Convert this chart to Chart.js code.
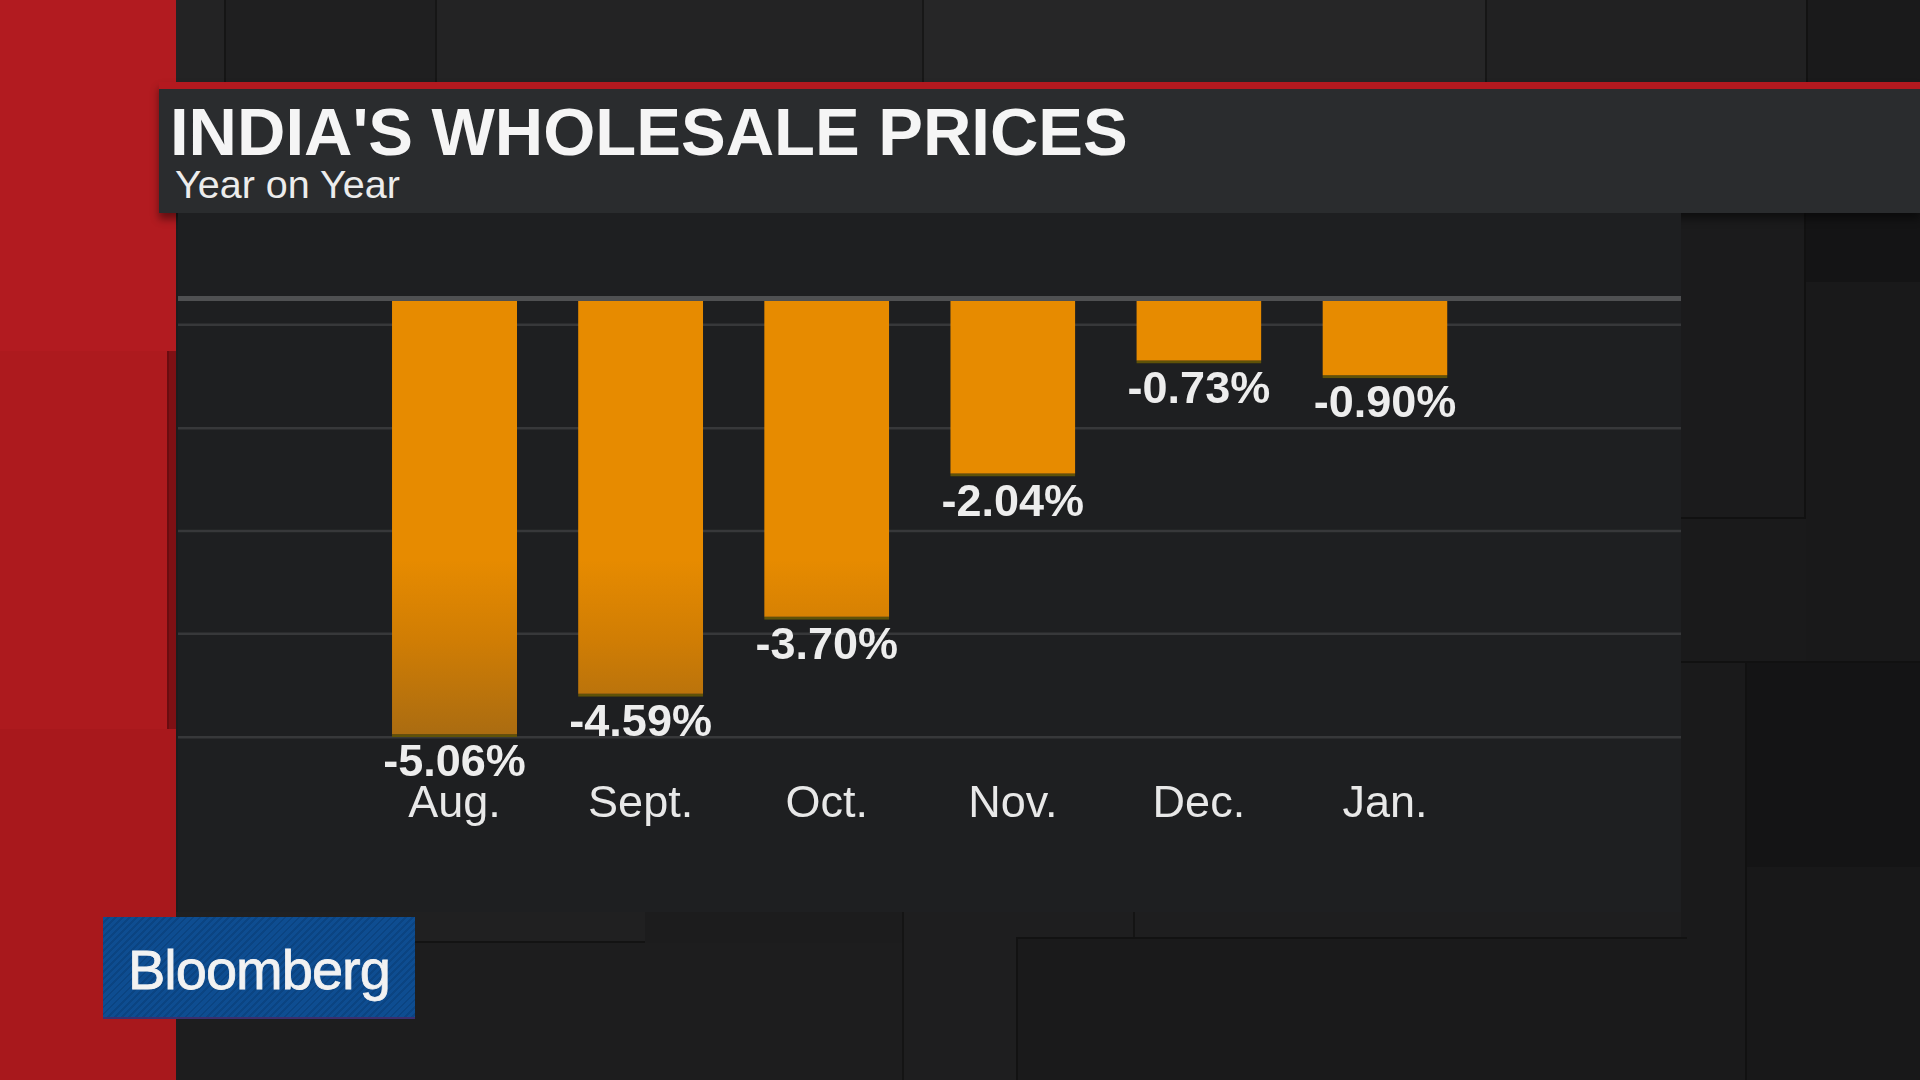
<!DOCTYPE html>
<html>
<head>
<meta charset="utf-8">
<script src="https://cdn.jsdelivr.net/npm/chart.js@4.4.1/dist/chart.umd.min.js"></script>
<style>
  html, body { margin: 0; padding: 0; }
  body {
    width: 1920px; height: 1080px; overflow: hidden; position: relative;
    background: #1c1c1d; font-family: "Liberation Sans", Arial, sans-serif;
  }
  .tile { position: absolute; box-sizing: border-box; }
  #header {
    position: absolute; left: 159px; top: 82px; width: 1761px; height: 131px;
    background: #2a2c2e; border-top: 7px solid #b3191f; box-sizing: border-box;
    box-shadow: 0 6px 8px rgba(0,0,0,0.45);
  }
  #title {
    position: absolute; left: 170px; top: 98px; color: #f5f5f5;
    font-weight: bold; font-size: 67px; line-height: 1; white-space: nowrap;
  }
  #subtitle {
    position: absolute; left: 175px; top: 165px; color: #ececec;
    font-size: 39.5px; line-height: 1; white-space: nowrap;
  }
  #panel {
    position: absolute; left: 178px; top: 213px; width: 1503px; height: 699px;
    background: #1e1f21;
  }
  #logo {
    position: absolute; left: 103px; top: 917px; width: 312px; height: 102px;
    background: repeating-linear-gradient(135deg, #0e4d91 0 3px, #0b4482 3px 5px);
    border-bottom: 2px solid #3a2f6e; box-sizing: border-box;
  }
  #logo span {
    position: absolute; left: 25px; top: 25px; color: #f2f2f2;
    font-size: 56px; line-height: 1; letter-spacing: -1px;
    -webkit-text-stroke: 0.8px #f2f2f2;
  }
</style>
</head>
<body>
<!-- left red column -->
<div class="tile" style="left:0;top:0;width:176px;height:351px;background:#b21b20;"></div>
<div class="tile" style="left:0;top:351px;width:176px;height:378px;background:#7e1014;"></div>
<div class="tile" style="left:0;top:351px;width:169px;height:378px;background:#ad1a1e;border-right:2px solid #6a0c10;"></div>
<div class="tile" style="left:0;top:729px;width:176px;height:351px;background:#a8181c;"></div>
<!-- top tiles -->
<div class="tile" style="left:176px;top:0;width:48px;height:82px;background:#232324;"></div>
<div class="tile" style="left:224px;top:0;width:211px;height:82px;background:#1f1f20;border-left:2px solid #151515;"></div>
<div class="tile" style="left:435px;top:0;width:487px;height:82px;background:#232324;border-left:2px solid #161616;"></div>
<div class="tile" style="left:922px;top:0;width:563px;height:82px;background:#262627;border-left:2px solid #171717;"></div>
<div class="tile" style="left:1485px;top:0;width:321px;height:82px;background:#212122;border-left:2px solid #161616;"></div>
<div class="tile" style="left:1806px;top:0;width:114px;height:82px;background:#1a1a1b;border-left:2px solid #121212;"></div>
<!-- right tiles -->
<div class="tile" style="left:1681px;top:213px;width:125px;height:306px;background:#1b1b1c;border-right:2px solid #111;border-bottom:2px solid #111;"></div>
<div class="tile" style="left:1806px;top:213px;width:114px;height:69px;background:#141415;"></div>
<div class="tile" style="left:1806px;top:282px;width:114px;height:379px;background:#19191a;"></div>
<div class="tile" style="left:1681px;top:519px;width:125px;height:142px;background:#1a1a1b;"></div>
<div class="tile" style="left:1681px;top:661px;width:64px;height:419px;background:#1a1a1b;border-top:2px solid #111;"></div>
<div class="tile" style="left:1745px;top:661px;width:175px;height:206px;background:#141415;border-top:2px solid #111;border-left:2px solid #111;"></div>
<div class="tile" style="left:1745px;top:867px;width:175px;height:213px;background:#181819;border-left:2px solid #111;"></div>
<!-- bottom tiles -->
<div class="tile" style="left:176px;top:912px;width:469px;height:31px;background:#202021;border-bottom:2px solid #131313;"></div>
<div class="tile" style="left:176px;top:943px;width:726px;height:137px;background:#1d1d1e;"></div>
<div class="tile" style="left:645px;top:912px;width:257px;height:31px;background:#1c1c1d;"></div>
<div class="tile" style="left:902px;top:912px;width:231px;height:168px;background:#1e1e1f;border-left:2px solid #141414;"></div>
<div class="tile" style="left:1133px;top:912px;width:548px;height:25px;background:#1e1e1f;border-left:2px solid #141414;"></div>
<div class="tile" style="left:1016px;top:937px;width:671px;height:143px;background:#1a1a1b;border-left:2px solid #121212;border-top:2px solid #121212;"></div>

<div id="header"></div>
<div id="title">INDIA'S WHOLESALE PRICES</div>
<div id="subtitle">Year on Year</div>

<div id="panel"><canvas id="wpiChart"></canvas></div>

<div id="logo"><span>Bloomberg</span></div>

<script>
// ==============================
// DATA
// ==============================
const months = ["Aug.", "Sept.", "Oct.", "Nov.", "Dec.", "Jan."];
const wpiYoY = [-5.06, -4.59, -3.70, -2.04, -0.73, -0.90];
const gridLevels = [-0.28, -1.48, -2.67, -3.86, -5.06];

// ==============================
// PLUGINS
// ==============================
const gridPlugin = {
  id: "fullGrid",
  beforeDatasetsDraw(chart) {
    const { ctx, scales } = chart;
    ctx.save();
    ctx.strokeStyle = "#37383a";
    ctx.lineWidth = 2.5;
    gridLevels.forEach(v => {
      const y = scales.y.getPixelForValue(v);
      ctx.beginPath();
      ctx.moveTo(0, y);
      ctx.lineTo(chart.width, y);
      ctx.stroke();
    });
    ctx.restore();
  },
  afterDatasetsDraw(chart) {
    const { ctx, scales } = chart;
    // zero line sits right on top of the bars
    const y0 = scales.y.getPixelForValue(0);
    ctx.save();
    ctx.strokeStyle = "#4f5052";
    ctx.lineWidth = 5;
    ctx.beginPath();
    ctx.moveTo(0, y0 - 2);
    ctx.lineTo(chart.width, y0 - 2);
    ctx.stroke();

    // value labels under each bar
    ctx.fillStyle = "#ededed";
    ctx.font = "bold 45px 'Liberation Sans', Arial, sans-serif";
    ctx.textAlign = "center";
    ctx.textBaseline = "alphabetic";
    chart.getDatasetMeta(0).data.forEach((bar, i) => {
      ctx.fillText(wpiYoY[i].toFixed(2) + "%", bar.x, bar.y + 39);
    });
    ctx.restore();
  }
};

function barFill(context) {
  const chart = context.chart;
  const { ctx, chartArea, scales } = chart;
  if (!chartArea) return "#e78b00";
  const g = ctx.createLinearGradient(0, scales.y.getPixelForValue(-3.0), 0, scales.y.getPixelForValue(-5.1));
  g.addColorStop(0, "#e78b00");
  g.addColorStop(0.45, "#d07d04");
  g.addColorStop(1, "#a86b12");
  return g;
}

// ==============================
// CHART
// ==============================
const chart = new Chart(document.getElementById("wpiChart").getContext("2d"), {
  type: "bar",
  data: {
    labels: months,
    datasets: [{
      data: wpiYoY,
      backgroundColor: barFill,
      borderColor: "#5f5208",
      borderWidth: { top: 0, left: 0, right: 0, bottom: 3 },
      borderSkipped: false,
      barPercentage: 0.672,
      categoryPercentage: 1.0
    }]
  },
  options: {
    responsive: true,
    maintainAspectRatio: false,
    animation: false,
    layout: { padding: { left: 183.5, right: 203, top: 1.2, bottom: 76.8 } },
    plugins: { legend: { display: false }, tooltip: { enabled: false } },
    scales: {
      x: {
        grid: { display: false, drawTicks: false },
        border: { display: false },
        ticks: {
          color: "#e8e8e8",
          padding: 5,
          font: { family: "'Liberation Sans', Arial, sans-serif", size: 45, lineHeight: 1.1 }
        },
        afterFit(scale) { scale.height = 60; }
      },
      y: { display: false, min: -5.5, max: 1 }
    }
  },
  plugins: [gridPlugin]
});
</script>
</body>
</html>
